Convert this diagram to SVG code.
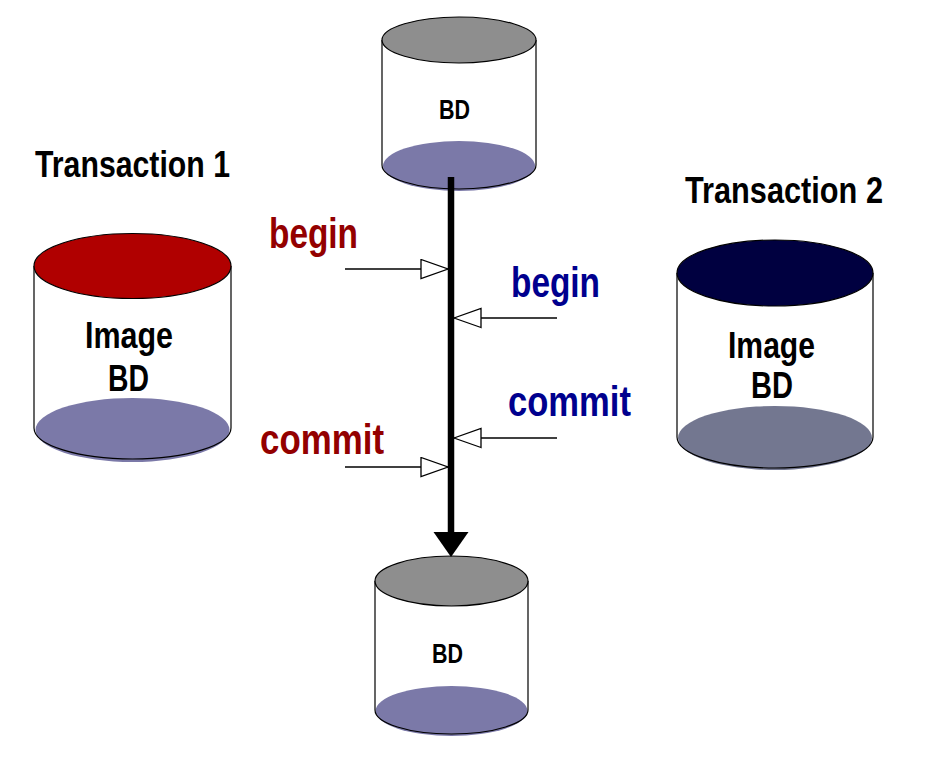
<svg xmlns="http://www.w3.org/2000/svg" width="935" height="763" viewBox="0 0 935 763">
<style>
  .body{fill:#ffffff;stroke:none}
  .side{stroke:#000;stroke-width:1.2;fill:none}
  .arc{stroke:#000;stroke-width:1.2;fill:none}
  .lid{stroke:#000;stroke-width:1.2}
  .t{font-family:"Liberation Sans",Arial,sans-serif;font-weight:bold}
  .red{fill:#930000}
  .blue{fill:#00008E}
  .thin{stroke:#000;stroke-width:1.3;fill:none}
</style>
<defs>
  <marker id="hollow" markerUnits="userSpaceOnUse" markerWidth="30" markerHeight="22" viewBox="-1 -1 29 22" refX="27" refY="9.5" orient="auto">
    <path d="M0,0 L27,9.5 L0,19 Z" fill="#fff" stroke="#000" stroke-width="1.3"/>
  </marker>
  <marker id="solid" markerUnits="userSpaceOnUse" markerWidth="26" markerHeight="36" viewBox="0 0 26 36" refX="0" refY="17.5" orient="auto">
    <path d="M0,0 L25,17.5 L0,35 Z" fill="#000"/>
  </marker>
</defs>
<rect width="935" height="763" fill="#fff"/>

<g id="db-top">
  <rect class="body" x="382" y="40" width="154" height="125"/>
  <ellipse cx="459" cy="166" rx="76" ry="25" fill="#7B79A8"/>
  <path class="arc" d="M382,165 A77,24 0 0 0 536,165"/>
  <path class="side" d="M382,40 L382,165 M536,40 L536,165"/>
  <ellipse class="lid" cx="459" cy="40" rx="77" ry="23" fill="#8E8E8E"/>
  <text class="t" x="439" y="119" font-size="28" textLength="31" lengthAdjust="spacingAndGlyphs">BD</text>
</g>

<g id="db-bottom">
  <rect class="body" x="375" y="581" width="153" height="129"/>
  <ellipse cx="451.5" cy="711" rx="76" ry="25" fill="#7B79A8"/>
  <path class="arc" d="M375,710 A76.5,24 0 0 0 528,710"/>
  <path class="side" d="M375,581 L375,710 M528,581 L528,710"/>
  <ellipse class="lid" cx="451.5" cy="581" rx="76.5" ry="25" fill="#8E8E8E"/>
  <text class="t" x="432" y="663" font-size="27" textLength="31" lengthAdjust="spacingAndGlyphs">BD</text>
</g>

<g id="image-t1">
  <rect class="body" x="34" y="266" width="197" height="162"/>
  <ellipse cx="132.5" cy="430" rx="97" ry="32" fill="#7B79A8"/>
  <path class="arc" d="M34,428 A98.5,31 0 0 0 231,428"/>
  <path class="side" d="M34,266 L34,428 M231,266 L231,428"/>
  <ellipse class="lid" cx="132.5" cy="266" rx="98.5" ry="32.5" fill="#B00000"/>
  <text class="t" x="85" y="348" font-size="37" textLength="88" lengthAdjust="spacingAndGlyphs">Image</text>
  <text class="t" x="108" y="391" font-size="36" textLength="41" lengthAdjust="spacingAndGlyphs">BD</text>
</g>

<g id="image-t2">
  <rect class="body" x="677" y="273" width="196" height="164"/>
  <ellipse cx="775" cy="438" rx="97" ry="32" fill="#737790"/>
  <path class="arc" d="M677,437 A98,31 0 0 0 873,437"/>
  <path class="side" d="M677,273 L677,437 M873,273 L873,437"/>
  <ellipse class="lid" cx="775" cy="273" rx="98" ry="33" fill="#000040"/>
  <text class="t" x="728" y="358" font-size="37" textLength="87" lengthAdjust="spacingAndGlyphs">Image</text>
  <text class="t" x="751" y="398" font-size="36" textLength="42" lengthAdjust="spacingAndGlyphs">BD</text>
</g>

<g id="title-t1">
  <text class="t" x="35" y="177" font-size="37" textLength="195" lengthAdjust="spacingAndGlyphs">Transaction 1</text>
</g>
<g id="title-t2">
  <text class="t" x="685" y="203" font-size="37" textLength="198" lengthAdjust="spacingAndGlyphs">Transaction 2</text>
</g>

<g id="connectors">
  <line x1="451" y1="177" x2="451" y2="532" stroke="#000" stroke-width="6.5" marker-end="url(#solid)"/>
  <line class="thin" x1="345" y1="269" x2="448" y2="269" marker-end="url(#hollow)"/>
  <line class="thin" x1="557" y1="318" x2="454" y2="318" marker-end="url(#hollow)"/>
  <line class="thin" x1="557" y1="438" x2="454" y2="438" marker-end="url(#hollow)"/>
  <line class="thin" x1="345" y1="467" x2="448" y2="467" marker-end="url(#hollow)"/>
</g>

<g id="labels">
  <text class="t red" x="269" y="248" font-size="42" textLength="89" lengthAdjust="spacingAndGlyphs">begin</text>
  <text class="t blue" x="511" y="297" font-size="42" textLength="89" lengthAdjust="spacingAndGlyphs">begin</text>
  <text class="t blue" x="508" y="416" font-size="42" textLength="123" lengthAdjust="spacingAndGlyphs">commit</text>
  <text class="t red" x="260" y="454" font-size="42" textLength="124" lengthAdjust="spacingAndGlyphs">commit</text>
</g>
</svg>
